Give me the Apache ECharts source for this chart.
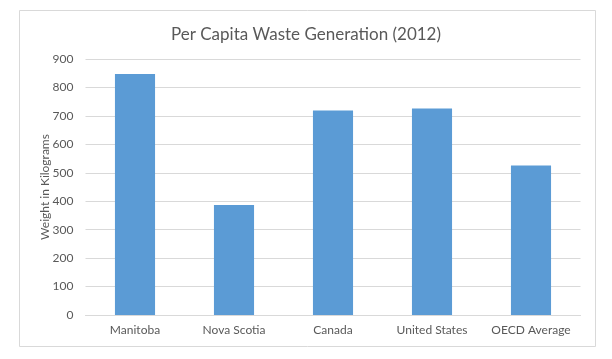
<!DOCTYPE html>
<html>
<head>
<meta charset="utf-8">
<script src="https://cdn.jsdelivr.net/npm/echarts@6/dist/echarts.min.js"></script>
<style>
html,body{margin:0;padding:0;background:#fff;}
#chart{width:612px;height:359px;}
</style>
</head>
<body>
<div id="chart"></div>
<script>
const categories = ["Manitoba", "Nova Scotia", "Canada", "United States", "OECD Average"];
const wasteKg = [847, 387, 719, 726, 526];
const titleText = "Per Capita Waste Generation (2012)";
const yAxisName = "Weight in Kilograms";

const chart = echarts.init(document.getElementById('chart'), null, {renderer: 'canvas'});
const font = 'Lato, "Liberation Sans", sans-serif';
chart.setOption({
  animation: false,
  backgroundColor: '#ffffff',
  graphic: [{
    type: 'rect',
    shape: {x: 19.5, y: 10.5, width: 576, height: 336},
    style: {fill: 'none', stroke: '#d9d9d9', lineWidth: 1},
    silent: true
  }],
  title: {
    text: titleText,
    left: 'center',
    top: 21,
    textStyle: {fontFamily: font, fontSize: 17, fontWeight: 'normal', color: '#595959'}
  },
  grid: {left: 85.5, right: 31.5, top: 59, bottom: 44},
  xAxis: {
    type: 'category',
    data: categories,
    axisLine: {show: true, lineStyle: {color: '#d9d9d9'}},
    axisTick: {show: false},
    axisLabel: {color: '#595959', fontFamily: font, fontSize: 12, margin: 9, interval: 0}
  },
  yAxis: {
    type: 'value',
    min: 0,
    max: 900,
    interval: 100,
    name: yAxisName,
    nameLocation: 'middle',
    nameGap: 34,
    nameMoveOverlap: false,
    nameTextStyle: {color: '#595959', fontFamily: font, fontSize: 12},
    axisLine: {show: false},
    axisTick: {show: false},
    axisLabel: {color: '#595959', fontFamily: font, fontSize: 12, margin: 12},
    splitLine: {lineStyle: {color: '#d9d9d9', width: 1}}
  },
  series: [{
    type: 'bar',
    data: wasteKg,
    barWidth: '40.5%',
    itemStyle: {color: '#5b9bd5'}
  }]
});
</script>
</body>
</html>
